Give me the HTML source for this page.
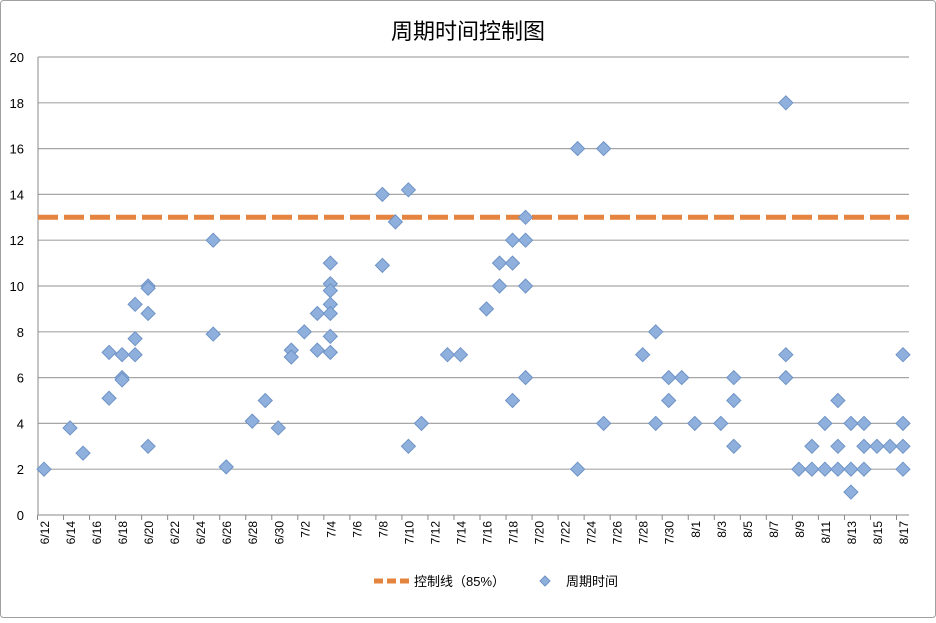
<!DOCTYPE html>
<html><head><meta charset="utf-8"><style>
body{margin:0;background:#fff;font-family:"Liberation Sans","Noto Sans CJK SC",sans-serif}
#wrap{position:relative;width:936px;height:618px}
</style></head><body>
<div id="wrap">
<svg id="chart" width="936" height="618"></svg>
</div>
<script>
const dayIdx=[0,2,3,5,5,6,6,6,7,7,7,8,8,8,8,13,13,14,16,17,18,19,19,20,21,21,22,22,22,22,22,22,22,26,26,27,28,28,29,31,32,34,35,35,36,36,36,37,37,37,37,41,41,43,43,46,47,47,48,48,49,50,52,53,53,53,57,57,57,58,59,59,60,60,61,61,61,62,62,62,63,63,63,64,65,66,66,66,66];
const cycleVals=[2,3.8,2.7,7.1,5.1,7,6,5.9,9.2,7.7,7,10,9.9,8.8,3,12,7.9,2.1,4.1,5,3.8,7.2,6.9,8,8.8,7.2,11,10.1,9.8,9.2,8.8,7.8,7.1,14,10.9,12.8,14.2,3,4,7,7,9,11,10,12,11,5,13,12,10,6,16,2,16,4,7,8,4,6,5,6,4,4,6,5,3,18,7,6,2,3,2,4,2,5,3,2,4,2,1,4,3,2,3,3,7,4,3,2];
const controlValue=13;
const yTicks=[0,2,4,6,8,10,12,14,16,18,20];
const months=[6,7,8];
const NS="http://www.w3.org/2000/svg";
const svg=document.getElementById('chart');
const X0=38,X1=909,Y0=515,Y1=57;
const x=d=>44+d*13.015;
const y=v=>Y0-(v/20)*(Y0-Y1);
function mk(t,a,p){const e=document.createElementNS(NS,t);for(const k in a)e.setAttribute(k,a[k]);(p||svg).appendChild(e);return e;}
// frame
const fr=mk('rect',{x:0.5,y:0.5,width:935,height:617,rx:3,fill:'#fff',stroke:'#a0a0a0'});


const ti=mk('text',{x:468,y:39,'text-anchor':'middle','font-size':22,fill:'#000'});ti.textContent='周期时间控制图';


// grid + y labels
yTicks.forEach(v=>{
 if(v>0){const g=mk('line',{x1:X0,x2:X1,y1:y(v),y2:y(v),stroke:'#a6a6a6','stroke-width':1.2});
 
 }
 const t=mk('text',{x:24,y:y(v)+5,'text-anchor':'end','font-size':13,fill:'#000'});t.textContent=v;
 
 
});
mk('line',{x1:X0,x2:X0,y1:Y1,y2:Y0,stroke:'#888'});
mk('line',{x1:X0,x2:X1,y1:Y0,y2:Y0,stroke:'#888'});
// x labels
const start=new Date(2013,5,12);
for(let d=0;d<=66;d+=2){
 const dt=new Date(start.getTime()+d*86400000);
 const lab=(dt.getMonth()+1)+'/'+dt.getDate();
 mk('line',{x1:x(d)-6.5,x2:x(d)-6.5,y1:Y0,y2:Y0+5,stroke:'#888'});
 const t=mk('text',{transform:`translate(${x(d)+5},${Y0+6}) rotate(-90)`,'text-anchor':'end','font-size':12,fill:'#000'});t.textContent=lab;
 
 
}
// control line
const cl=mk('line',{x1:X0,x2:X1,y1:y(controlValue),y2:y(controlValue),stroke:'#e5843f','stroke-width':5,'stroke-dasharray':'20 6'});


// points
dayIdx.forEach((d,i)=>{
 const cx=x(d),cy=y(cycleVals[i]);
 const p=mk('path',{d:`M${cx} ${cy-7}L${cx+7} ${cy}L${cx} ${cy+7}L${cx-7} ${cy}Z`,fill:'#8fb0dc',stroke:'#6f93c6','stroke-width':1});
 
 
});
// legend
const l1=mk('line',{x1:374,x2:410,y1:581,y2:581,stroke:'#e5843f','stroke-width':5,'stroke-dasharray':'9 4'});


const lt1=mk('text',{x:414,y:586,'font-size':13,fill:'#000'});lt1.textContent='控制线（85%）';


mk('path',{d:'M545 576L550 581L545 586L540 581Z',fill:'#8fb0dc',stroke:'#6f93c6'});
const lt2=mk('text',{x:566,y:586,'font-size':13,fill:'#000'});lt2.textContent='周期时间';


</script>
</body></html>
